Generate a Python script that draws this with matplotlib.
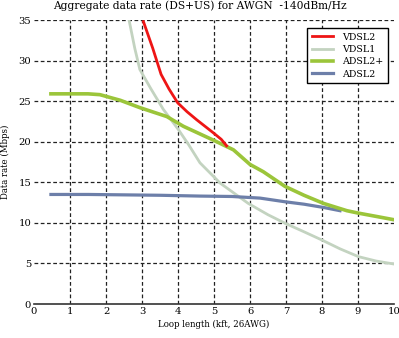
import matplotlib
matplotlib.use("Agg")
import matplotlib.pyplot as plt

# Loop length (kft) and aggregate data rate (Mbps) per technology
vdsl2_x = [3.04, 3.3, 3.53, 3.75, 3.99, 4.25, 4.52, 4.75, 4.98, 5.2, 5.35]
vdsl2_y = [34.8, 31.5, 28.3, 26.5, 24.8, 23.7, 22.7, 21.9, 21.1, 20.3, 19.5]

vdsl1_x = [2.64, 2.8, 2.94, 3.25, 3.59, 4.01, 4.3, 4.61, 5.17, 5.95, 6.5,
           6.97, 7.5, 7.99, 8.5, 9.01, 9.5, 9.98]
vdsl1_y = [35.0, 31.5, 28.9, 26.5, 24.0, 21.5, 19.6, 17.4, 14.9, 12.4, 11.0,
           9.96, 8.9, 7.9, 6.8, 5.84, 5.3, 4.94]

adsl2p_x = [0.47, 1.0, 1.5, 1.83, 2.4, 2.94, 3.69, 4.15, 4.98, 5.54, 6.0,
            6.37, 6.97, 7.5, 8.04, 8.69, 9.01, 9.5, 9.98]
adsl2p_y = [25.9, 25.9, 25.9, 25.8, 25.1, 24.2, 23.1, 21.9, 20.2, 19.0, 17.2,
            16.3, 14.5, 13.4, 12.4, 11.5, 11.2, 10.8, 10.4]

adsl2_x = [0.47, 1.5, 2.5, 3.5, 4.61, 5.5, 6.28, 6.97, 7.5, 8.04, 8.5]
adsl2_y = [13.5, 13.5, 13.45, 13.4, 13.3, 13.25, 13.05, 12.6, 12.3, 11.9, 11.5]

x_ticks = list(range(0, 11))
y_ticks = list(range(0, 36, 5))

plt.rcParams["font.family"] = ["DejaVu Serif"]

fig = plt.figure(figsize=(3.99, 3.38), dpi=100)
ax = fig.add_axes([34 / 399, 1 - 304 / 338, 360 / 399, 284 / 338])

ax.plot(vdsl1_x, vdsl1_y, color="#c3d3c0", lw=2.0, label="VDSL1", zorder=3)
ax.plot(adsl2_x, adsl2_y, color="#6d7fa9", lw=2.3, label="ADSL2", zorder=4)
ax.plot(adsl2p_x, adsl2p_y, color="#9bc53a", lw=2.6, label="ADSL2+", zorder=5)
ax.plot(vdsl2_x, vdsl2_y, color="#ee1515", lw=2.0, label="VDSL2", zorder=6)

ax.set_xlim(0, 10)
ax.set_ylim(0, 35)
ax.set_xticks(x_ticks)
ax.set_yticks(y_ticks)
ax.tick_params(length=0, labelsize=7.2, pad=2)

for s in ["top", "right", "left"]:
    ax.spines[s].set_visible(False)
ax.spines["bottom"].set_color("#333333")
ax.spines["bottom"].set_linewidth(1.2)

for xv in x_ticks[1:-1]:
    ax.axvline(xv, color="#222222", lw=0.9, ls=(0, (3, 2)), zorder=1)
for yv in y_ticks[1:]:
    ax.axhline(yv, color="#222222", lw=0.9, ls=(0, (3, 2)), zorder=1)

ax.set_xlabel("Loop length (kft, 26AWG)", fontsize=6.2, labelpad=3)
ax.set_ylabel("Data rate (Mbps)", fontsize=6.2, labelpad=6)

fig.text(0.5, 1 - 9 / 338, "Aggregate data rate (DS+US) for AWGN  -140dBm/Hz",
         ha="center", va="baseline", fontsize=7.7)

handles, labels = ax.get_legend_handles_labels()
order = [labels.index(n) for n in ["VDSL2", "VDSL1", "ADSL2+", "ADSL2"]]
leg = ax.legend([handles[i] for i in order], [labels[i] for i in order],
                loc="upper right", bbox_to_anchor=(388 / 399, 1 - 28 / 338),
                bbox_transform=fig.transFigure, fontsize=6.8, frameon=True,
                fancybox=False, framealpha=1, edgecolor="black",
                handlelength=2.2, handletextpad=1.0, labelspacing=0.35,
                borderpad=0.5, borderaxespad=0)
leg.get_frame().set_linewidth(1.0)
leg.set_zorder(10)

fig.savefig("out.png", dpi=100)
